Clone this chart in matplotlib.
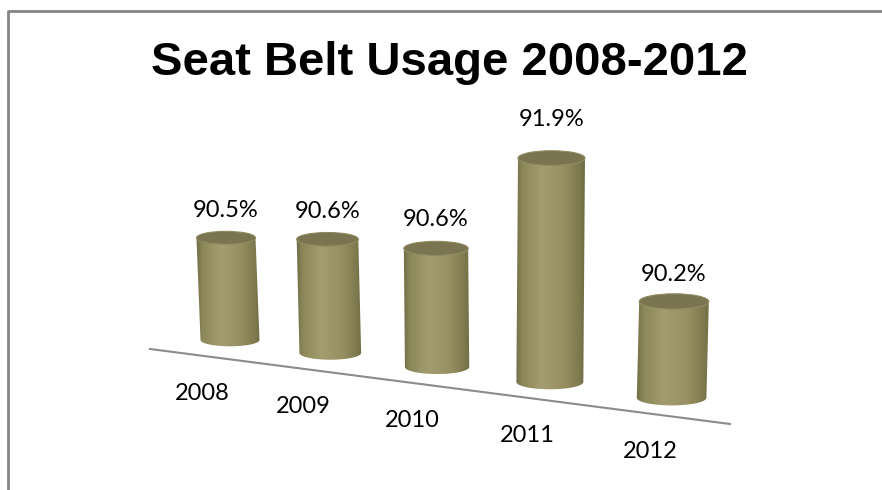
import numpy as np
import matplotlib
matplotlib.use("Agg")
import matplotlib.pyplot as plt
from matplotlib.patches import Ellipse, PathPatch
from matplotlib.path import Path
from matplotlib.colors import LinearSegmentedColormap
from matplotlib.lines import Line2D

# ---- data ----
years = ["2008", "2009", "2010", "2011", "2012"]
usage = [90.5, 90.6, 90.6, 91.9, 90.2]
value_labels = ["90.5%", "90.6%", "90.6%", "91.9%", "90.2%"]
title = "Seat Belt Usage 2008-2012"

W, H = 882, 490
fig = plt.figure(figsize=(W / 100, H / 100), dpi=100)
ax = fig.add_axes([0, 0, 1, 1])
ax.set_xlim(0, W)
ax.set_ylim(H, 0)
ax.axis("off")

# ---- pseudo-3D projection (pixel space) ----
v_floor = 89.0          # value axis minimum
k_px = 68.0             # pixels per unit value at the first category
persp = 0.045           # perspective growth per category
line_x0, line_y0, line_x1, line_y1 = 150, 349, 730, 424
slope = (line_y1 - line_y0) / (line_x1 - line_x0)


def floor_line(x):
    return line_y0 + slope * (x - line_x0)


def cat_x(i):
    return 226 + 98 * i + 3.5 * i ** 2


cmap = LinearSegmentedColormap.from_list(
    "olive",
    [(0.0, "#6f6b45"), (0.10, "#8c8759"), (0.38, "#a39d6f"),
     (0.70, "#958f61"), (0.92, "#7d774d"), (1.0, "#6f6944")])
grad = np.linspace(0, 1, 256)[None, :]

ax.add_line(Line2D([line_x0, line_x1], [line_y0, line_y1],
                   color="#8c8c8c", lw=1.5, zorder=1))

for i, (yr, v, lab) in enumerate(zip(years, usage, value_labels)):
    s = 1 + persp * i
    xc = cat_x(i)
    yb = floor_line(xc) - 19
    h = k_px * s * (v - v_floor)
    yt = yb - h
    w = 59 * s
    e = 0.22 * w
    a, b = w / 2, e / 2
    xt = xc
    xb = xc + (500 - xc) * h / 7000.0

    t1 = np.linspace(np.pi, 0, 60)
    t2 = np.linspace(0, np.pi, 60)
    verts = [(xt - a, yt), (xb - a, yb)]
    verts += [(xb + a * np.cos(t), yb + b * np.sin(t)) for t in t1]
    verts += [(xt + a, yt)]
    verts += [(xt + a * np.cos(t), yt + b * np.sin(t)) for t in t2]
    verts += [(xt - a, yt)]
    codes = [Path.MOVETO] + [Path.LINETO] * (len(verts) - 2) + [Path.CLOSEPOLY]
    body = PathPatch(Path(verts, codes), facecolor="none", edgecolor="none")
    ax.add_patch(body)
    xl = min(xt, xb) - a - 1
    xr = max(xt, xb) + a + 1
    im = ax.imshow(cmap(grad), extent=(xl, xr, yb + b + 1, yt - 1),
                   aspect="auto", interpolation="bilinear", zorder=2)
    im.set_clip_path(body)

    ax.add_patch(Ellipse((xt, yt), w, e, facecolor="#7a7450",
                         edgecolor="#8f895f", lw=0.8, zorder=3))

    ax.text(xc, yt - (18 + 0.09 * h), lab, ha="center", va="center",
            fontsize=17, family="Lato", color="black", zorder=4)
    xlab = xc - 24
    ax.text(xlab, floor_line(xlab) + 38, yr, ha="center", va="center",
            fontsize=17, family="Lato", color="black", zorder=4)

ax.set_xlim(0, W)
ax.set_ylim(H, 0)

ax.text(449, 75, title, ha="center", va="baseline", fontsize=34,
        fontweight="bold", family="Liberation Sans", color="black")

# frame (left and top edges)
fig.add_artist(Line2D([7.5 / W, 7.5 / W, 1], [0, 1 - 11.5 / H, 1 - 11.5 / H],
                      transform=fig.transFigure, color="#858585", lw=2))

fig.savefig("out.png", dpi=100)
